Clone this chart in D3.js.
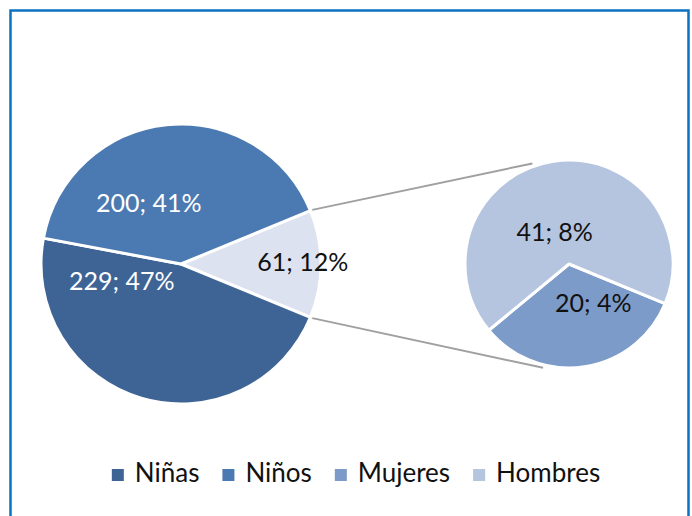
<!DOCTYPE html>
<html>
<head>
<meta charset="utf-8">
<script src="https://cdn.jsdelivr.net/npm/d3@7"></script>
<style>
    body { margin: 0; background: #fff; }
    svg { display: block; }
    text { font-family: Lato, "Open Sans", sans-serif; }
</style>
</head>
<body>
<svg id="chart" width="692" height="516"></svg>
<script>
// main pie: two categories + the "other" slice that is split out
const mainLabels = ["Niñas", "Niños"];
const mainValues = [229, 200];
// secondary pie (breakdown of the "other" slice)
const subLabels = ["Mujeres", "Hombres"];
const subValues = [20, 41];
const legendLabels = ["Niñas", "Niños", "Mujeres", "Hombres"];

const colors = {
    "Niñas": "#3e6495",
    "Niños": "#4a7ab1",
    "Mujeres": "#7d9bc9",
    "Hombres": "#b5c4df",
    "other": "#dce2ef"
};

const svg = d3.select("#chart");
const W = 692, H = 516;
const rad = Math.PI / 180;

svg.append("rect").attr("width", W).attr("height", H).attr("fill", "#fff");
// frame
svg.append("rect")
    .attr("x", 10.5).attr("y", 10.5)
    .attr("width", 678).attr("height", 530)
    .attr("fill", "none")
    .attr("stroke", "#0a72c1")
    .attr("stroke-width", 2.5);

const total = d3.sum(mainValues) + d3.sum(subValues);
const otherTotal = d3.sum(subValues);
const pct = v => Math.round(v / total * 100) + "%";

// main pie
const main = {cx: 181, cy: 264, r: 140};
const mainData = [{label: "other", value: otherTotal}]
    .concat(mainLabels.map((l, i) => ({label: l, value: mainValues[i]})));
const otherSpan = otherTotal / total * 360;
const mainPie = d3.pie().sort(null).value(d => d.value)
    .startAngle((90 - otherSpan / 2) * rad)
    .endAngle((450 - otherSpan / 2) * rad);
const mainArcs = mainPie(mainData);
const mainArc = d3.arc().innerRadius(0).outerRadius(main.r);

const gMain = svg.append("g").attr("transform", `translate(${main.cx},${main.cy})`);
gMain.selectAll("path")
    .data(mainArcs)
    .join("path")
    .attr("d", mainArc)
    .attr("fill", d => colors[d.data.label])
    .attr("stroke", "#fff")
    .attr("stroke-width", 3)
    .attr("stroke-linejoin", "round");

// secondary pie
const sub = {cx: 569, cy: 264, r: 104};
const subData = subLabels.map((l, i) => ({label: l, value: subValues[i]}));
const subStart = 90 + otherSpan / 2;
const subPie = d3.pie().sort(null).value(d => d.value)
    .startAngle(subStart * rad)
    .endAngle((subStart + 360) * rad);
const subArcs = subPie(subData);
const subArc = d3.arc().innerRadius(0).outerRadius(sub.r);

// connector lines
const otherArc = mainArcs[0];
const pt = (c, r, a) => [c.cx + r * Math.sin(a), c.cy - r * Math.cos(a)];
const connectors = [
    [pt(main, main.r + 2, otherArc.startAngle), pt(sub, sub.r + 3, -20 * rad)],
    [pt(main, main.r + 2, otherArc.endAngle), pt(sub, sub.r + 3, 194 * rad)]
];
svg.append("g").selectAll("line")
    .data(connectors)
    .join("line")
    .attr("x1", d => d[0][0]).attr("y1", d => d[0][1])
    .attr("x2", d => d[1][0]).attr("y2", d => d[1][1])
    .attr("stroke", "#a0a0a0")
    .attr("stroke-width", 2);

const gSub = svg.append("g").attr("transform", `translate(${sub.cx},${sub.cy})`);
gSub.selectAll("path")
    .data(subArcs)
    .join("path")
    .attr("d", subArc)
    .attr("fill", d => colors[d.data.label])
    .attr("stroke", "#fff")
    .attr("stroke-width", 3)
    .attr("stroke-linejoin", "round");

// data labels: polar placement (angle in degrees, fraction of radius)
const labelPos = {
    "Niñas": [254, 0.44],
    "Niños": [-28, 0.49],
    "other": [89, 0.87],
    "Mujeres": [148, 0.44],
    "Hombres": [-24, 0.34]
};
const labelColor = {"Niñas": "#fff", "Niños": "#fff", "other": "#111", "Mujeres": "#111", "Hombres": "#111"};

function drawLabels(g, arcs, r) {
    g.selectAll("text.lbl")
        .data(arcs)
        .join("text")
        .attr("class", "lbl")
        .attr("x", d => r * labelPos[d.data.label][1] * Math.sin(labelPos[d.data.label][0] * rad))
        .attr("y", d => -r * labelPos[d.data.label][1] * Math.cos(labelPos[d.data.label][0] * rad))
        .attr("dy", "0.36em")
        .attr("text-anchor", "middle")
        .attr("font-size", 25)
        .attr("fill", d => labelColor[d.data.label])
        .text(d => d.data.value + "; " + pct(d.data.value));
}
drawLabels(gMain, mainArcs, main.r);
drawLabels(gSub, subArcs, sub.r);

// legend
const legend = svg.append("g");
const items = legend.selectAll("g")
    .data(legendLabels)
    .join("g");
items.append("rect")
    .attr("width", 12).attr("height", 12)
    .attr("y", -13)
    .attr("fill", d => colors[d]);
items.append("text")
    .attr("x", 23)
    .attr("font-size", 26)
    .attr("fill", "#111")
    .text(d => d);
let xPos = 0;
items.each(function() {
    const w = 23 + this.querySelector("text").getComputedTextLength();
    d3.select(this).attr("transform", `translate(${xPos},0)`);
    xPos += w + 23;
});
const legendW = xPos - 23;
legend.attr("transform", `translate(${356 - legendW / 2},482)`);
</script>
</body>
</html>
